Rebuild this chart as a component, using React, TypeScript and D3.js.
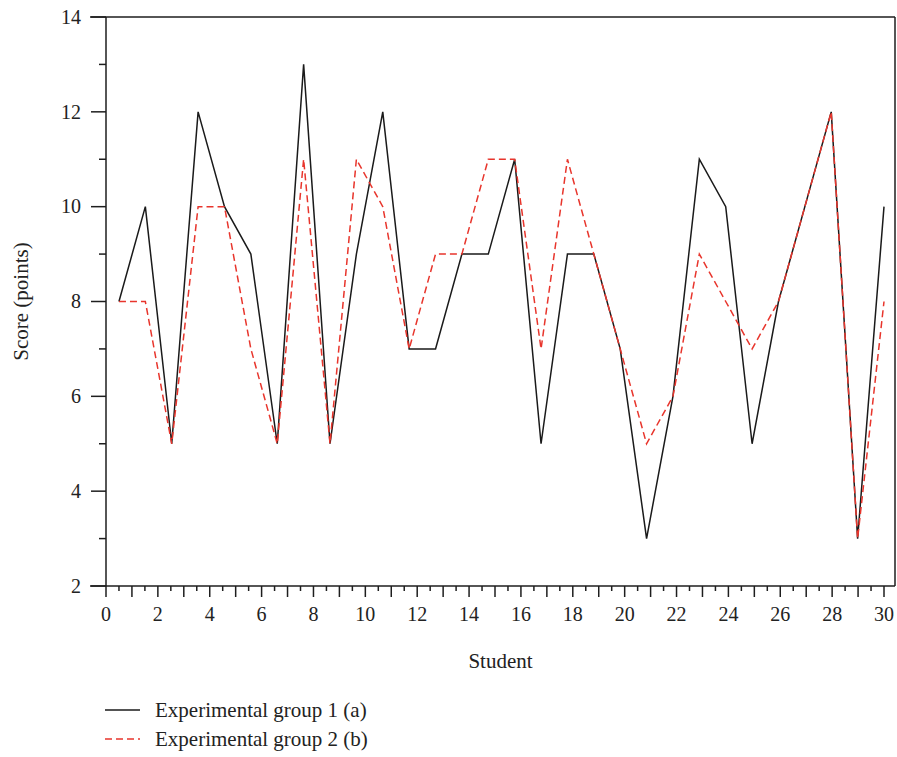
import React from "react";
import * as d3 from "d3";

const students = [1, 2, 3, 4, 5, 6, 7, 8, 9, 10, 11, 12, 13, 14, 15, 16, 17, 18, 19, 20, 21, 22, 23, 24, 25, 26, 27, 28, 29, 30];
const group1 = [8, 10, 5, 12, 10, 9, 5, 13, 5, 9, 12, 7, 7, 9, 9, 11, 5, 9, 9, 7, 3, 6, 11, 10, 5, 8, 10, 12, 3, 10];
const group2 = [8, 8, 5, 10, 10, 7, 5, 11, 5, 11, 10, 7, 9, 9, 11, 11, 7, 11, 9, 7, 5, 6, 9, 8, 7, 8, 10, 12, 3, 8];
const seriesNames = ["Experimental group 1 (a)", "Experimental group 2 (b)"];
const xTickValues = [0, 2, 4, 6, 8, 10, 12, 14, 16, 18, 20, 22, 24, 26, 28, 30];
const yTickValues = [2, 4, 6, 8, 10, 12, 14];

const W = 897;
const H = 757;
const FONT = "'Liberation Serif', 'Times New Roman', serif";
const AX = "#1e1e1e";
const RED = "#e8352c";

export default function App() {
  const x = d3.scaleLinear().domain([0, 30]).range([106, 884]);
  const y = d3.scaleLinear().domain([2, 14]).range([586, 17]);
  const xs = d3.scaleLinear().domain([1, 30]).range([x(0.5), x(30)]);
  const frameRight = 895;

  const line = d3
    .line<number>()
    .x((_, i) => xs(students[i]))
    .y((d) => y(d));

  const majorX = d3.range(0, 31, 1);
  const minorX = d3.range(0.5, 30, 1);
  const minorY = d3.range(3, 14, 2);

  return (
    <svg width={W} height={H} style={{ position: "absolute", left: 0, top: 0, background: "#fff" }} fontFamily={FONT}>
      {/* frame */}
      <line x1={90} x2={frameRight} y1={y(14)} y2={y(14)} stroke={AX} strokeWidth={1.5} />
      <line x1={frameRight} x2={frameRight} y1={y(14)} y2={y(2)} stroke={AX} strokeWidth={1.5} />
      <line x1={x(0)} x2={x(0)} y1={y(14)} y2={y(2)} stroke={AX} strokeWidth={1.5} />
      <line x1={90} x2={frameRight} y1={y(2)} y2={y(2)} stroke={AX} strokeWidth={1.5} />

      {/* y ticks */}
      {yTickValues.map((v) => (
        <g key={"y" + v}>
          <line x1={x(0) - 15} x2={x(0)} y1={y(v)} y2={y(v)} stroke={AX} strokeWidth={1.5} />
          <text x={81} y={y(v)} dy="0.34em" textAnchor="end" fontSize={20} fill="#222">
            {v}
          </text>
        </g>
      ))}
      {minorY.map((v) => (
        <line key={"ym" + v} x1={x(0) - 7} x2={x(0)} y1={y(v)} y2={y(v)} stroke={AX} strokeWidth={1.5} />
      ))}

      {/* x ticks */}
      {majorX.map((v) => (
        <line key={"xM" + v} x1={x(v)} x2={x(v)} y1={y(2)} y2={y(2) + 11} stroke={AX} strokeWidth={1.5} />
      ))}
      {minorX.map((v) => (
        <line key={"xm" + v} x1={x(v)} x2={x(v)} y1={y(2)} y2={y(2) + 5} stroke={AX} strokeWidth={1.5} />
      ))}
      {xTickValues.map((v) => (
        <text key={"xl" + v} x={x(v)} y={621} textAnchor="middle" fontSize={20} fill="#222">
          {v}
        </text>
      ))}

      {/* axis titles */}
      <text x={(x(0) + frameRight) / 2} y={668} textAnchor="middle" fontSize={21} fill="#222">
        Student
      </text>
      <text
        transform={`translate(28, ${(y(2) + y(14)) / 2}) rotate(-90)`}
        textAnchor="middle"
        fontSize={21}
        fill="#222"
      >
        Score (points)
      </text>

      {/* series */}
      <path d={line(group1) || ""} fill="none" stroke="#1a1a1a" strokeWidth={1.5} strokeLinejoin="miter" />
      <path d={line(group2) || ""} fill="none" stroke={RED} strokeWidth={1.5} strokeDasharray="7,4" />

      {/* legend */}
      <line x1={105} x2={140} y1={710} y2={710} stroke="#1a1a1a" strokeWidth={1.5} />
      <text x={155} y={717} fontSize={21} fill="#222">
        {seriesNames[0]}
      </text>
      <line x1={105} x2={140} y1={739} y2={739} stroke={RED} strokeWidth={1.5} strokeDasharray="7,4" />
      <text x={155} y={746} fontSize={21} fill="#222">
        {seriesNames[1]}
      </text>
    </svg>
  );
}
